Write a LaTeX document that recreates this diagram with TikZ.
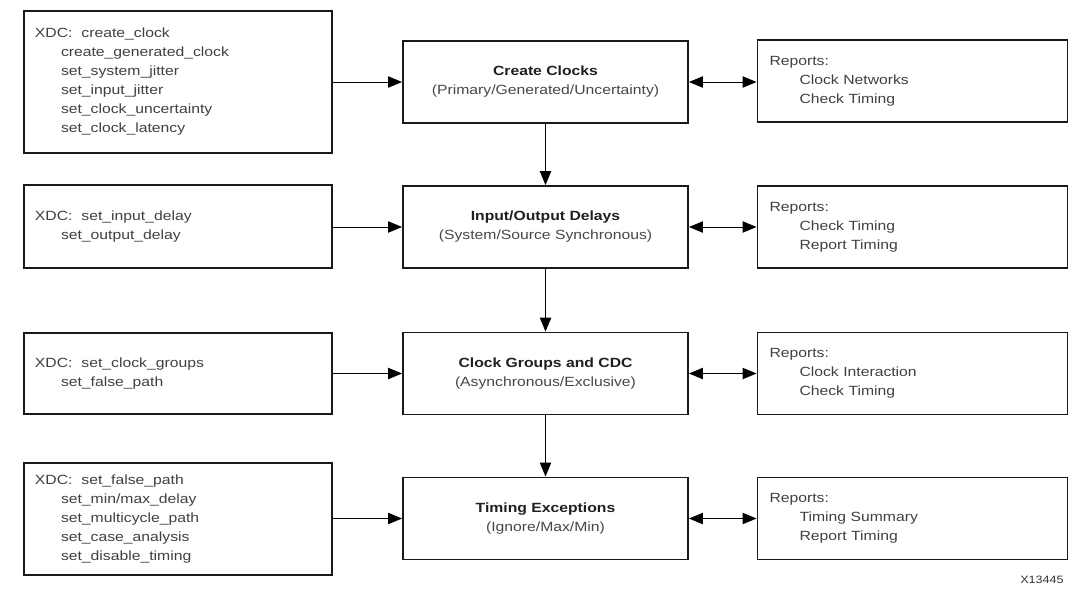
\documentclass[tikz,border=0pt]{standalone}
\usepackage{fontspec}
\setmainfont{Liberation Sans}[FakeStretch=1.18]
\usepackage{tikz}
\usetikzlibrary{arrows.meta}

\begin{document}
\begin{tikzpicture}[x=0.75pt,y=0.75pt,yscale=-1,
  xdcbox/.style={draw=black!90,line width=1.4pt,text width=214.5pt,inner xsep=8.25pt,align=left,text=black!75,font=\fontsize{10}{14.25}\selectfont},
  phasebox/.style={draw=black!90,line width=1.4pt,minimum width=213.75pt,minimum height=61.5pt,align=center,text=black!72,font=\fontsize{10}{14.25}\selectfont},
  rptbox/.style={draw=black!90,line width=1.4pt,text width=214.5pt,inner xsep=9pt,minimum height=61.5pt,align=left,text=black!75,font=\fontsize{10}{14.25}\selectfont},
  flow/.style={draw=black,line width=0.75pt,-{Triangle[length=10.5pt,width=8.5pt]}},
  flowboth/.style={draw=black,line width=0.75pt,{Triangle[length=10.5pt,width=8.5pt]}-{Triangle[length=10.5pt,width=8.5pt]}}]
\useasboundingbox (0,0) rectangle (1086,594);

%Shape: XDC boxes (left column)
\node[xdcbox,minimum height=106.5pt] (xdc1) at (178,82) {XDC:~~create\_clock\\
  \hspace*{19.5pt}create\_generated\_clock\\
  \hspace*{19.5pt}set\_system\_jitter\\
  \hspace*{19.5pt}set\_input\_jitter\\
  \hspace*{19.5pt}set\_clock\_uncertainty\\
  \hspace*{19.5pt}set\_clock\_latency};
\node[xdcbox,minimum height=62.25pt] (xdc2) at (178,226.5) {XDC:~~set\_input\_delay\\
  \hspace*{19.5pt}set\_output\_delay};
\node[xdcbox,minimum height=60.75pt] (xdc3) at (178,373.5) {XDC:~~set\_clock\_groups\\
  \hspace*{19.5pt}set\_false\_path};
\node[xdcbox,minimum height=84pt] (xdc4) at (178,519) {XDC:~~set\_false\_path\\
  \hspace*{19.5pt}set\_min/max\_delay\\
  \hspace*{19.5pt}set\_multicycle\_path\\
  \hspace*{19.5pt}set\_case\_analysis\\
  \hspace*{19.5pt}set\_disable\_timing};

%Shape: flow steps (middle column)
\node[phasebox] (clk) at (545.5,82) {{\bfseries\color{black!88}Create Clocks}\\(Primary/Generated/Uncertainty)};
\node[phasebox] (iod) at (545.5,227) {{\bfseries\color{black!88}Input/Output Delays}\\(System/Source Synchronous)};
\node[phasebox] (cdc) at (545.5,373.5) {{\bfseries\color{black!88}Clock Groups and CDC}\\(Asynchronous/Exclusive)};
\node[phasebox] (exc) at (545.5,518.5) {{\bfseries\color{black!88}Timing Exceptions}\\(Ignore/Max/Min)};

%Shape: report boxes (right column)
\node[rptbox] (rpt1) at (912.5,81) {Reports:\\
  \hspace*{22.5pt}Clock Networks\\
  \hspace*{22.5pt}Check Timing};
\node[rptbox] (rpt2) at (912.5,227) {Reports:\\
  \hspace*{22.5pt}Check Timing\\
  \hspace*{22.5pt}Report Timing};
\node[rptbox] (rpt3) at (912.5,373.5) {Reports:\\
  \hspace*{22.5pt}Clock Interaction\\
  \hspace*{22.5pt}Check Timing};
\node[rptbox] (rpt4) at (912.5,518.5) {Reports:\\
  \hspace*{22.5pt}Timing Summary\\
  \hspace*{22.5pt}Report Timing};

%Straight Lines: constraints into steps
\draw[flow] (xdc1.east |- clk.west) -- (clk.west);
\draw[flow] (xdc2.east |- iod.west) -- (iod.west);
\draw[flow] (xdc3.east |- cdc.west) -- (cdc.west);
\draw[flow] (xdc4.east |- exc.west) -- (exc.west);

%Straight Lines: step order
\draw[flow] (clk) -- (iod);
\draw[flow] (iod) -- (cdc);
\draw[flow] (cdc) -- (exc);

%Straight Lines: steps to reports
\draw[flowboth] (clk.east) -- (rpt1.west |- clk.east);
\draw[flowboth] (iod.east) -- (rpt2.west);
\draw[flowboth] (cdc.east) -- (rpt3.west);
\draw[flowboth] (exc.east) -- (rpt4.west);

% Text Node
\node[font=\fontsize{8}{9}\selectfont,text=black!80] (fig) at (1042,580) {X13445};

\end{tikzpicture}
\end{document}
